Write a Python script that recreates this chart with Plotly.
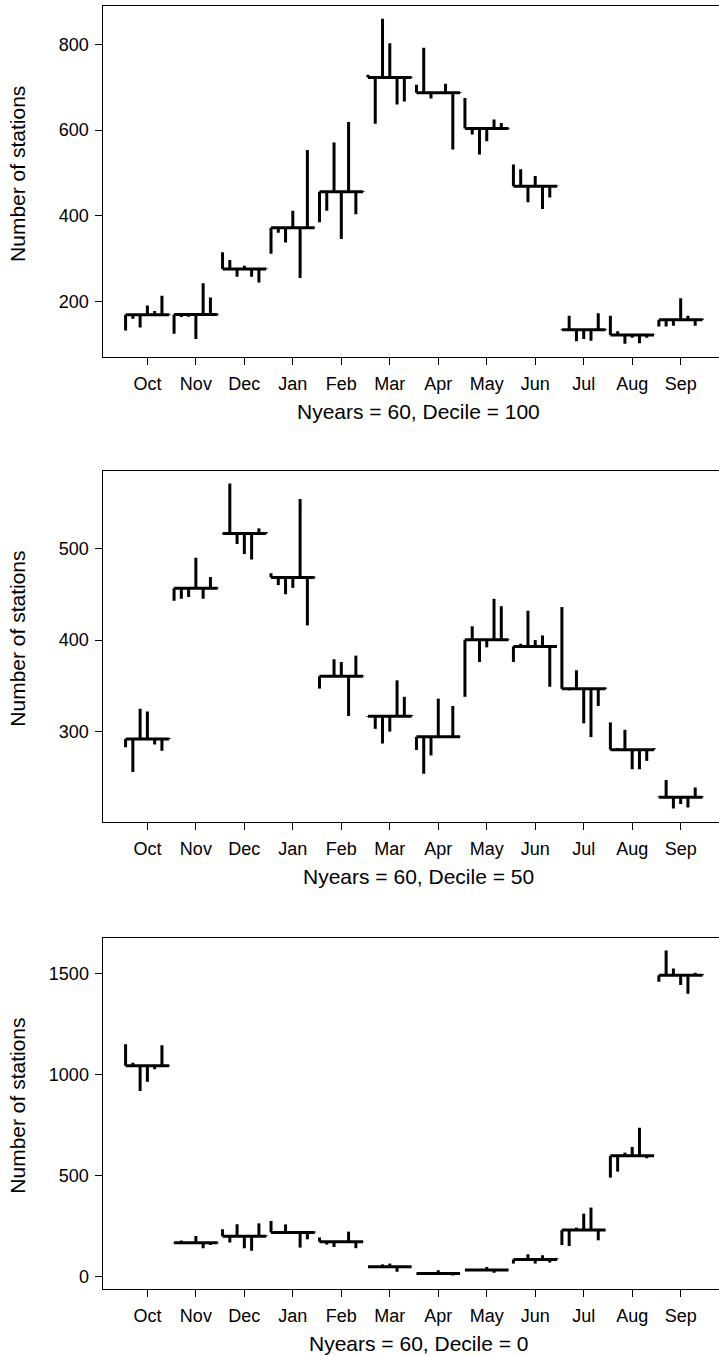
import plotly.graph_objects as go

months = ["Oct", "Nov", "Dec", "Jan", "Feb", "Mar", "Apr", "May", "Jun", "Jul", "Aug", "Sep"]

# seven values per month (one per period), Decile = 100
dec100 = [
    [133, 160, 140, 191, 178, 214, 171],
    [125, 164, 165, 113, 243, 210, 171],
    [315, 297, 258, 284, 258, 245, 278],
    [312, 361, 338, 412, 255, 554, 373],
    [385, 412, 571, 346, 619, 404, 458],
    [729, 615, 860, 803, 660, 667, 724],
    [706, 792, 674, 689, 708, 555, 689],
    [675, 590, 543, 574, 625, 617, 605],
    [520, 509, 432, 493, 416, 443, 471],
    [136, 167, 108, 113, 109, 173, 136],
    [167, 131, 102, 116, 103, 116, 123],
    [142, 142, 144, 208, 167, 144, 160],
]

# Decile = 50
dec50 = [
    [283, 256, 325, 322, 286, 279, 293],
    [443, 445, 447, 490, 445, 469, 457],
    [516, 571, 505, 494, 488, 522, 518],
    [473, 460, 450, 457, 554, 416, 469],
    [347, 360, 379, 376, 317, 383, 361],
    [316, 303, 287, 300, 356, 338, 318],
    [280, 254, 274, 336, 294, 328, 294],
    [338, 415, 376, 392, 445, 437, 400],
    [376, 396, 432, 400, 405, 349, 393],
    [436, 345, 367, 309, 294, 328, 348],
    [310, 282, 302, 259, 259, 268, 282],
    [229, 247, 216, 221, 217, 239, 229],
]

# Decile = 0
dec0 = [
    [1151, 1060, 920, 966, 1027, 1146, 1043],
    [166, 180, 172, 203, 142, 158, 166],
    [236, 170, 260, 142, 129, 265, 206],
    [277, 224, 260, 224, 145, 186, 224],
    [195, 160, 148, 175, 224, 142, 175],
    [51, 51, 62, 66, 26, 47, 51],
    [16, 14, 16, 33, 14, 7, 17],
    [34, 32, 36, 49, 20, 36, 35],
    [66, 92, 112, 66, 107, 71, 92],
    [158, 153, 244, 313, 343, 181, 231],
    [491, 521, 615, 643, 738, 587, 598],
    [1460, 1615, 1526, 1444, 1401, 1505, 1497],
]

panels = [
    (dec100, "Nyears = 60, Decile = 100", 200),
    (dec50, "Nyears = 60, Decile = 50", 100),
    (dec0, "Nyears = 60, Decile = 0", 500),
]

W, H = 719, 1356
box_left = 102.5
box_tops = [5.7, 470.5, 937.5]
box_h = 351.0
px_per_unit = 48.48
x_lo = 0.55 - 0.04 * 11.9
x_hi = x_lo + (W - box_left) / px_per_unit

FONT = "Liberation Sans, Arial, Helvetica, sans-serif"

fig = go.Figure()
layout = dict(
    width=W, height=H,
    margin=dict(l=0, r=0, t=0, b=0),
    paper_bgcolor="white", plot_bgcolor="white",
    showlegend=False,
    font=dict(family=FONT, size=18, color="black"),
)
annotations = []

for k, (data, xlabel, dt) in enumerate(panels):
    idx = "" if k == 0 else str(k + 1)
    xs, ys = [], []
    allv = []
    for i, vals in enumerate(data):
        m = i + 1
        n = len(vals)
        base = sum(vals) / n
        pos = [m - 0.45 + 0.9 * j / (n - 1) for j in range(n)]
        xs += [m - 0.45, m + 0.45, None]
        ys += [base, base, None]
        for p, v in zip(pos, vals):
            xs += [p, p, None]
            ys += [base, v, None]
        allv += vals
    vmin, vmax = min(allv), max(allv)
    span = vmax - vmin
    yr = [vmin - 0.04 * span, vmax + 0.04 * span]

    fig.add_trace(go.Scatter(
        x=xs, y=ys, mode="lines",
        line=dict(color="black", width=3),
        xaxis="x" + idx, yaxis="y" + idx, hoverinfo="skip",
    ))

    top = box_tops[k]
    bot = top + box_h
    ydom = [1 - bot / H, 1 - top / H]
    layout["xaxis" + idx] = dict(
        domain=[box_left / W, 1.0], range=[x_lo, x_hi],
        anchor="y" + idx,
        tickmode="array", tickvals=list(range(1, 13)), ticktext=months,
        ticks="outside", ticklen=7, tickwidth=1, tickcolor="black",
        showline=True, linecolor="black", linewidth=1, mirror=True,
        showgrid=False, zeroline=False,
        tickfont=dict(family=FONT, size=18, color="black"),
        ticklabelstandoff=4,
    )
    layout["yaxis" + idx] = dict(
        domain=ydom, range=yr, anchor="x" + idx,
        dtick=dt, tick0=0,
        ticks="outside", ticklen=7, tickwidth=1, tickcolor="black",
        showline=True, linecolor="black", linewidth=1, mirror=False,
        showgrid=False, zeroline=False,
        tickfont=dict(family=FONT, size=18, color="black"),
        ticklabelstandoff=2,
    )
    annotations.append(dict(
        text="Number of stations", textangle=-90,
        x=16.7 / W, y=1 - ((top + bot) / 2 - 7) / H, xref="paper", yref="paper",
        xanchor="center", yanchor="middle", showarrow=False,
        font=dict(family=FONT, size=21, color="black"),
    ))
    annotations.append(dict(
        text=xlabel,
        x=418 / W, y=1 - (bot + 55) / H, xref="paper", yref="paper",
        xanchor="center", yanchor="middle", showarrow=False,
        font=dict(family=FONT, size=21, color="black"),
    ))

layout["annotations"] = annotations
fig.update_layout(**layout)
fig.write_html(
    "out.html",
    config={"displayModeBar": False, "staticPlot": True},
    post_script="document.body.style.margin='0px'; document.body.style.overflow='hidden';",
)
